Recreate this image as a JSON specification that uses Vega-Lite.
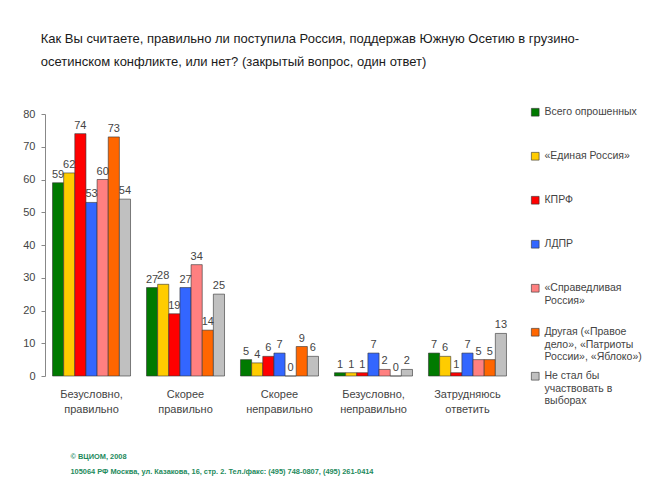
{
  "$schema": "https://vega.github.io/schema/vega-lite/v6.json",
  "width": 469,
  "height": 262,
  "padding": {"left": 22, "top": 33, "right": 5, "bottom": 5},
  "background": "white",
  "config": {
    "font": "Liberation Sans",
    "view": {"stroke": null}
  },
  "title": {
    "text": ["Как Вы считаете, правильно ли поступила Россия, поддержав Южную Осетию в грузино-", "осетинском конфликте, или нет? (закрытый вопрос, один ответ)"],
    "anchor": "start",
    "frame": "bounds",
    "dx": 18,
    "fontSize": 13,
    "fontWeight": "normal",
    "color": "#1a1a1a",
    "lineHeight": 23,
    "offset": 38
  },
  "data": {
    "values": [
      {"cat": "Безусловно,|правильно", "party": "Всего опрошенных", "v": 59},
      {"cat": "Безусловно,|правильно", "party": "«Единая Россия»", "v": 62},
      {"cat": "Безусловно,|правильно", "party": "КПРФ", "v": 74},
      {"cat": "Безусловно,|правильно", "party": "ЛДПР", "v": 53},
      {"cat": "Безусловно,|правильно", "party": "«Справедливая|Россия»", "v": 60},
      {"cat": "Безусловно,|правильно", "party": "Другая («Правое|дело», «Патриоты|России», «Яблоко»)", "v": 73},
      {"cat": "Безусловно,|правильно", "party": "Не стал бы|участвовать в|выборах", "v": 54},
      {"cat": "Скорее|правильно", "party": "Всего опрошенных", "v": 27},
      {"cat": "Скорее|правильно", "party": "«Единая Россия»", "v": 28},
      {"cat": "Скорее|правильно", "party": "КПРФ", "v": 19},
      {"cat": "Скорее|правильно", "party": "ЛДПР", "v": 27},
      {"cat": "Скорее|правильно", "party": "«Справедливая|Россия»", "v": 34},
      {"cat": "Скорее|правильно", "party": "Другая («Правое|дело», «Патриоты|России», «Яблоко»)", "v": 14},
      {"cat": "Скорее|правильно", "party": "Не стал бы|участвовать в|выборах", "v": 25},
      {"cat": "Скорее|неправильно", "party": "Всего опрошенных", "v": 5},
      {"cat": "Скорее|неправильно", "party": "«Единая Россия»", "v": 4},
      {"cat": "Скорее|неправильно", "party": "КПРФ", "v": 6},
      {"cat": "Скорее|неправильно", "party": "ЛДПР", "v": 7},
      {"cat": "Скорее|неправильно", "party": "«Справедливая|Россия»", "v": 0},
      {"cat": "Скорее|неправильно", "party": "Другая («Правое|дело», «Патриоты|России», «Яблоко»)", "v": 9},
      {"cat": "Скорее|неправильно", "party": "Не стал бы|участвовать в|выборах", "v": 6},
      {"cat": "Безусловно,|неправильно", "party": "Всего опрошенных", "v": 1},
      {"cat": "Безусловно,|неправильно", "party": "«Единая Россия»", "v": 1},
      {"cat": "Безусловно,|неправильно", "party": "КПРФ", "v": 1},
      {"cat": "Безусловно,|неправильно", "party": "ЛДПР", "v": 7},
      {"cat": "Безусловно,|неправильно", "party": "«Справедливая|Россия»", "v": 2},
      {"cat": "Безусловно,|неправильно", "party": "Другая («Правое|дело», «Патриоты|России», «Яблоко»)", "v": 0},
      {"cat": "Безусловно,|неправильно", "party": "Не стал бы|участвовать в|выборах", "v": 2},
      {"cat": "Затрудняюсь|ответить", "party": "Всего опрошенных", "v": 7},
      {"cat": "Затрудняюсь|ответить", "party": "«Единая Россия»", "v": 6},
      {"cat": "Затрудняюсь|ответить", "party": "КПРФ", "v": 1},
      {"cat": "Затрудняюсь|ответить", "party": "ЛДПР", "v": 7},
      {"cat": "Затрудняюсь|ответить", "party": "«Справедливая|Россия»", "v": 5},
      {"cat": "Затрудняюсь|ответить", "party": "Другая («Правое|дело», «Патриоты|России», «Яблоко»)", "v": 5},
      {"cat": "Затрудняюсь|ответить", "party": "Не стал бы|участвовать в|выборах", "v": 13}
    ]
  },
  "encoding": {
    "x": {
      "field": "cat",
      "type": "nominal",
      "sort": null,
      "scale": {"paddingInner": 0.17, "paddingOuter": 0.08},
      "axis": {
        "title": ["© ВЦИОМ, 2008", "105064 РФ Москва, ул. Казакова, 16, стр. 2.  Тел./факс: (495) 748-0807, (495) 261-0414"],
        "titleAnchor": "start",
        "titleAlign": "left",
        "titleX": 25,
        "titlePadding": 38,
        "titleFont": "Liberation Sans",
        "titleFontSize": 7.4,
        "titleFontWeight": "bold",
        "titleColor": "#1d8a5c",
        "titleLineHeight": 15,
        "labelAngle": 0,
        "labelExpr": "split(datum.label, '|')",
        "labelFontSize": 11,
        "labelColor": "#444",
        "labelLineHeight": 15,
        "labelPadding": 12,
        "domain": false,
        "ticks": false
      }
    },
    "xOffset": {"field": "party", "type": "nominal", "sort": null},
    "y": {
      "field": "v",
      "type": "quantitative",
      "scale": {"domain": [0, 80]},
      "axis": {
        "title": null,
        "values": [0, 10, 20, 30, 40, 50, 60, 70, 80],
        "grid": false,
        "labelFontSize": 11,
        "labelColor": "#444",
        "domainColor": "#888",
        "tickColor": "#888",
        "tickSize": 4,
        "labelPadding": 6
      }
    }
  },
  "layer": [
    {
      "mark": {"type": "bar", "stroke": "#333", "strokeWidth": 0.6},
      "encoding": {
        "color": {
          "field": "party",
          "type": "nominal",
          "sort": null,
          "scale": {
            "range": ["#007a00", "#ffcc00", "#ff0000", "#3366ff", "#ff8080", "#ff6600", "#c0c0c0"]
          },
          "legend": {
            "title": null,
            "orient": "none",
            "legendX": 485,
            "legendY": -7,
            "symbolType": "square",
            "symbolSize": 60,
            "symbolStrokeColor": "#333",
            "symbolStrokeWidth": 0.6,
            "labelFontSize": 10.5,
            "labelColor": "#444",
            "labelExpr": "split(datum.label, '|')",
            "labelLimit": 200,
            "labelLineHeight": 14,
            "gridAlign": "all",
            "rowPadding": 8,
            "padding": 0
          }
        }
      }
    },
    {
      "mark": {"type": "text", "dy": -8, "fontSize": 11, "color": "#444"},
      "encoding": {"text": {"field": "v", "type": "quantitative"}}
    }
  ]
}
